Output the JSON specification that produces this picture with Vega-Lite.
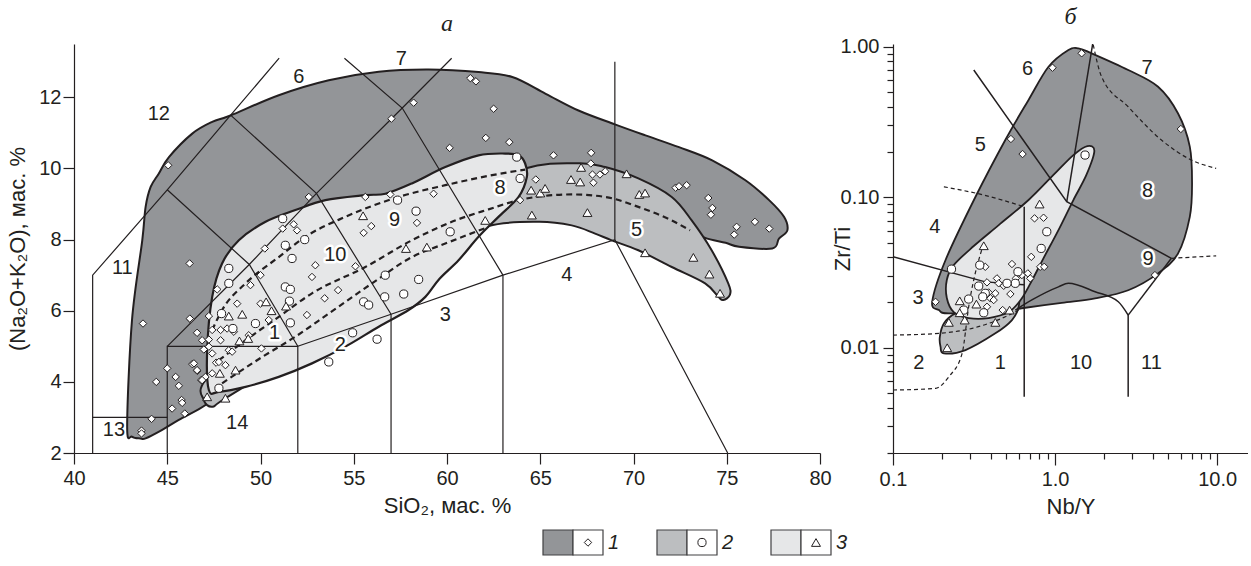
{
"$schema": "https://vega.github.io/schema/vega-lite/v6.json",
"background": "white",
"padding": {"left": 6, "top": 4, "right": 0, "bottom": 5},
"config": {"view": {"stroke": null}, "font": "Liberation Sans",
  "axis": {"grid": false, "domainColor": "#231f20", "tickColor": "#231f20", "labelColor": "#231f20", "titleColor": "#231f20", "labelFontSize": 20, "titleFontSize": 22, "titleFontWeight": "normal", "labelFont": "Liberation Sans", "titleFont": "Liberation Sans", "domainWidth": 1.2, "tickWidth": 1.2, "labelFlush": false},
  "title": {"font": "Liberation Serif", "fontStyle": "italic", "fontWeight": "normal", "fontSize": 24, "color": "#231f20", "offset": 8}},
"spacing": 12,
"datasets": {
"aDark": [{"i":0,"x":43.12,"y":2.46},{"i":1,"x":42.85,"y":2.74},{"i":2,"x":43.11,"y":5.74},{"i":3,"x":43.66,"y":7.98},{"i":4,"x":43.84,"y":8.92},{"i":5,"x":44.11,"y":9.48},{"i":6,"x":44.55,"y":9.86},{"i":7,"x":45.09,"y":10.32},{"i":8,"x":46.34,"y":10.98},{"i":9,"x":47.41,"y":11.31},{"i":10,"x":48.39,"y":11.49},{"i":11,"x":50.98,"y":12.06},{"i":12,"x":53.66,"y":12.48},{"i":13,"x":56.34,"y":12.72},{"i":14,"x":59.01,"y":12.78},{"i":15,"x":61.69,"y":12.71},{"i":16,"x":63.5,"y":12.57},{"i":17,"x":65.29,"y":12.1},{"i":18,"x":67.05,"y":11.63},{"i":19,"x":69.0,"y":11.24},{"i":20,"x":70.64,"y":10.93},{"i":21,"x":72.44,"y":10.6},{"i":22,"x":74.22,"y":10.23},{"i":23,"x":76.0,"y":9.67},{"i":24,"x":77.27,"y":9.11},{"i":25,"x":78.07,"y":8.64},{"i":26,"x":78.25,"y":8.26},{"i":27,"x":77.8,"y":8.03},{"i":28,"x":77.44,"y":7.75},{"i":29,"x":75.66,"y":7.8},{"i":30,"x":74.94,"y":7.91},{"i":31,"x":73.84,"y":8.05},{"i":32,"x":73.12,"y":8.26},{"i":33,"x":70,"y":9.0},{"i":34,"x":67,"y":9.5},{"i":35,"x":64.5,"y":9.6},{"i":36,"x":62,"y":9.0},{"i":37,"x":58,"y":8.5},{"i":38,"x":54,"y":7.5},{"i":39,"x":50,"y":6.5},{"i":40,"x":48,"y":5.5},{"i":41,"x":47.6,"y":4.4},{"i":42,"x":47.2,"y":3.6},{"i":43,"x":47.05,"y":3.35},{"i":44,"x":45.62,"y":2.93},{"i":45,"x":44.73,"y":2.65},{"i":46,"x":43.84,"y":2.41},{"i":47,"x":43.57,"y":2.41}],
"aMed": [{"i":0,"x":47.05,"y":4.05},{"i":1,"x":50,"y":5.5},{"i":2,"x":55,"y":7.5},{"i":3,"x":60,"y":9.0},{"i":4,"x":64.19,"y":10.0},{"i":5,"x":67.05,"y":10.15},{"i":6,"x":68.48,"y":10.04},{"i":7,"x":70.26,"y":9.72},{"i":8,"x":72.05,"y":9.2},{"i":9,"x":73.12,"y":8.54},{"i":10,"x":74.19,"y":7.7},{"i":11,"x":75.08,"y":6.77},{"i":12,"x":75.17,"y":6.45},{"i":13,"x":74.81,"y":6.3},{"i":14,"x":74.55,"y":6.39},{"i":15,"x":73.84,"y":6.77},{"i":16,"x":72.05,"y":7.23},{"i":17,"x":70.26,"y":7.7},{"i":18,"x":68.83,"y":7.98},{"i":19,"x":67.94,"y":8.17},{"i":20,"x":66.69,"y":8.4},{"i":21,"x":64.9,"y":8.5},{"i":22,"x":62.23,"y":8.38},{"i":23,"x":60,"y":7.7},{"i":24,"x":56,"y":6.2},{"i":25,"x":52,"y":4.8},{"i":26,"x":48.12,"y":3.54},{"i":27,"x":47.41,"y":3.3},{"i":28,"x":46.96,"y":3.49}],
"aLight": [{"i":0,"x":47.23,"y":3.77},{"i":1,"x":47.14,"y":4.89},{"i":2,"x":47.41,"y":6.39},{"i":3,"x":47.94,"y":7.33},{"i":4,"x":48.84,"y":7.98},{"i":5,"x":50.27,"y":8.5},{"i":6,"x":51.87,"y":8.83},{"i":7,"x":53.48,"y":9.11},{"i":8,"x":55.62,"y":9.25},{"i":9,"x":56.7,"y":9.29},{"i":10,"x":58.12,"y":9.58},{"i":11,"x":59.91,"y":10.04},{"i":12,"x":61.69,"y":10.37},{"i":13,"x":63.12,"y":10.42},{"i":14,"x":63.84,"y":10.37},{"i":15,"x":64.19,"y":10.14},{"i":16,"x":64.28,"y":9.76},{"i":17,"x":63.84,"y":9.2},{"i":18,"x":62.76,"y":8.64},{"i":19,"x":61.69,"y":8.08},{"i":20,"x":60.62,"y":7.42},{"i":21,"x":59.6,"y":6.9},{"i":22,"x":58.84,"y":6.39},{"i":23,"x":57.94,"y":6.02},{"i":24,"x":56.34,"y":5.55},{"i":25,"x":54.55,"y":4.99},{"i":26,"x":52.76,"y":4.52},{"i":27,"x":50.98,"y":4.14},{"i":28,"x":49.2,"y":3.86},{"i":29,"x":47.77,"y":3.72}],
"aLines": [
 {"s":"a","i":0,"x":41,"y":2},{"s":"a","i":1,"x":41,"y":7},{"s":"a","i":2,"x":45,"y":9.4},{"s":"a","i":3,"x":48.4,"y":11.5},{"s":"a","i":4,"x":51.0,"y":13.1},
 {"s":"b","i":0,"x":41,"y":3},{"s":"b","i":1,"x":45,"y":3},
 {"s":"c","i":0,"x":45,"y":2},{"s":"c","i":1,"x":45,"y":5},{"s":"c","i":2,"x":52,"y":5},{"s":"c","i":3,"x":52,"y":2},
 {"s":"d","i":0,"x":45,"y":5},{"s":"d","i":1,"x":49.4,"y":7.3},{"s":"d","i":2,"x":53,"y":9.3},{"s":"d","i":3,"x":57.6,"y":11.7},{"s":"d","i":4,"x":60.25,"y":13.1},
 {"s":"e","i":0,"x":52,"y":5},{"s":"e","i":1,"x":57,"y":5.9},{"s":"e","i":2,"x":63,"y":7},{"s":"e","i":3,"x":69,"y":8},{"s":"e","i":4,"x":75.05,"y":2},
 {"s":"f","i":0,"x":57,"y":2},{"s":"f","i":1,"x":57,"y":5.9},
 {"s":"g","i":0,"x":63,"y":2},{"s":"g","i":1,"x":63,"y":7},
 {"s":"h","i":0,"x":69,"y":8},{"s":"h","i":1,"x":69,"y":13},
 {"s":"k","i":0,"x":45,"y":9.4},{"s":"k","i":1,"x":49.4,"y":7.3},{"s":"k","i":2,"x":52,"y":5},
 {"s":"j","i":0,"x":48.4,"y":11.5},{"s":"j","i":1,"x":53,"y":9.3},{"s":"j","i":2,"x":57,"y":5.9},
 {"s":"m","i":0,"x":54.5,"y":13.1},{"s":"m","i":1,"x":57.6,"y":11.7},{"s":"m","i":2,"x":63,"y":7}],
"aDash": [
 {"s":"1","i":0,"x":47.41,"y":5.46},{"s":"1","i":1,"x":47.94,"y":6.02},{"s":"1","i":2,"x":49.2,"y":6.77},{"s":"1","i":3,"x":50.98,"y":7.51},{"s":"1","i":4,"x":52.41,"y":8.08},{"s":"1","i":5,"x":54.55,"y":8.64},{"s":"1","i":6,"x":57.41,"y":9.2},{"s":"1","i":7,"x":59.91,"y":9.53},{"s":"1","i":8,"x":62.3,"y":9.8},{"s":"1","i":9,"x":64.19,"y":9.97},
 {"s":"2","i":0,"x":47.77,"y":4.61},{"s":"2","i":1,"x":49.2,"y":5.17},{"s":"2","i":2,"x":50.98,"y":5.83},{"s":"2","i":3,"x":52.76,"y":6.49},{"s":"2","i":4,"x":55.62,"y":7.23},{"s":"2","i":5,"x":58.12,"y":7.98},{"s":"2","i":6,"x":60.5,"y":8.55},{"s":"2","i":7,"x":62.23,"y":8.85},{"s":"2","i":8,"x":64.01,"y":9.13},{"s":"2","i":9,"x":66.69,"y":9.27},{"s":"2","i":10,"x":68.48,"y":9.2},{"s":"2","i":11,"x":70.26,"y":8.92},{"s":"2","i":12,"x":72.05,"y":8.54},{"s":"2","i":13,"x":73.03,"y":8.26},
 {"s":"3","i":0,"x":47.94,"y":3.96},{"s":"3","i":1,"x":50.09,"y":4.7},{"s":"3","i":2,"x":51.87,"y":5.27},{"s":"3","i":3,"x":53.66,"y":5.92},{"s":"3","i":4,"x":55.98,"y":6.77},{"s":"3","i":5,"x":58.12,"y":7.51},{"s":"3","i":6,"x":59.91,"y":7.89},{"s":"3","i":7,"x":62.23,"y":8.36}],
"aPts": [
 {"g":"1","x":45.05,"y":10.09},{"g":"1","x":58.21,"y":11.85},{"g":"1","x":57.02,"y":11.4},{"g":"1","x":61.25,"y":12.54},{"g":"1","x":61.55,"y":12.45},{"g":"1","x":62.5,"y":11.68},{"g":"1","x":62.08,"y":10.86},{"g":"1","x":60.14,"y":10.58},{"g":"1","x":52.59,"y":9.2},{"g":"1","x":63.34,"y":10.74},{"g":"1","x":65.71,"y":10.37},{"g":"1","x":67.73,"y":10.44},{"g":"1","x":67.71,"y":10.14},{"g":"1","x":67.8,"y":9.83},{"g":"1","x":68.2,"y":9.83},{"g":"1","x":68.48,"y":9.92},{"g":"1","x":67.85,"y":9.6},{"g":"1","x":64.76,"y":9.69},{"g":"1","x":63.92,"y":9.11},{"g":"1","x":72.26,"y":9.46},{"g":"1","x":72.44,"y":9.5},{"g":"1","x":72.85,"y":9.53},{"g":"1","x":74.01,"y":9.17},{"g":"1","x":74.23,"y":8.89},{"g":"1","x":74.15,"y":8.7},{"g":"1","x":75.53,"y":8.36},{"g":"1","x":76.51,"y":8.5},{"g":"1","x":77.28,"y":8.31},{"g":"1","x":75.4,"y":8.14},
 {"g":"1","x":46.2,"y":7.33},{"g":"1","x":43.7,"y":5.64},{"g":"1","x":46.25,"y":5.76},{"g":"1","x":45.0,"y":4.38},{"g":"1","x":45.45,"y":4.14},{"g":"1","x":45.62,"y":3.89},{"g":"1","x":44.41,"y":4.0},{"g":"1","x":45.77,"y":3.49},{"g":"1","x":45.8,"y":3.41},{"g":"1","x":45.26,"y":3.25},{"g":"1","x":45.94,"y":3.11},{"g":"1","x":44.16,"y":2.96},{"g":"1","x":43.62,"y":2.63},{"g":"1","x":43.62,"y":2.55},{"g":"1","x":46.34,"y":4.5},{"g":"1","x":46.61,"y":4.31},{"g":"1","x":46.82,"y":4.05},
 {"g":"1","x":55.62,"y":9.2},{"g":"1","x":56.96,"y":9.27},{"g":"1","x":59.28,"y":9.29},{"g":"1","x":55.53,"y":8.19},{"g":"1","x":55.94,"y":8.38},{"g":"1","x":58.39,"y":8.47},{"g":"1","x":51.78,"y":8.43},{"g":"1","x":51.96,"y":8.26},{"g":"1","x":51.19,"y":8.31},{"g":"1","x":52.94,"y":7.28},{"g":"1","x":52.76,"y":6.95},{"g":"1","x":55.09,"y":7.25},{"g":"1","x":54.16,"y":6.58},{"g":"1","x":53.44,"y":6.35},{"g":"1","x":52.49,"y":5.88},{"g":"1","x":50.23,"y":7.75},{"g":"1","x":50.0,"y":7.0},{"g":"1","x":49.46,"y":6.72},{"g":"1","x":50.0,"y":6.2},{"g":"1","x":50.44,"y":5.74},{"g":"1","x":50.05,"y":4.94},{"g":"1","x":49.37,"y":5.31},{"g":"1","x":48.3,"y":4.89},{"g":"1","x":48.48,"y":4.85},{"g":"1","x":47.41,"y":5.46},{"g":"1","x":47.86,"y":5.46},{"g":"1","x":48.21,"y":5.5},{"g":"1","x":48.57,"y":5.41},{"g":"1","x":46.6,"y":5.38},{"g":"1","x":46.87,"y":5.17},{"g":"1","x":47.23,"y":5.19},{"g":"1","x":47.86,"y":5.17},{"g":"1","x":46.96,"y":4.91},{"g":"1","x":47.23,"y":4.99},{"g":"1","x":47.41,"y":4.8},{"g":"1","x":47.62,"y":4.54},{"g":"1","x":47.77,"y":4.56},{"g":"1","x":48.12,"y":4.47},{"g":"1","x":46.43,"y":4.52},{"g":"1","x":46.6,"y":4.33},{"g":"1","x":47.05,"y":4.14},{"g":"1","x":46.87,"y":4.05},{"g":"1","x":47.41,"y":4.24},{"g":"1","x":46.21,"y":5.78},{"g":"1","x":47.23,"y":5.85},{"g":"1","x":47.68,"y":6.6},{"g":"1","x":48.75,"y":6.2},
 {"g":"2","x":48.3,"y":7.19},{"g":"2","x":51.19,"y":8.59},{"g":"2","x":51.33,"y":7.84},{"g":"2","x":51.69,"y":7.47},{"g":"2","x":52.37,"y":8.0},{"g":"2","x":47.91,"y":5.92},{"g":"2","x":48.3,"y":6.77},{"g":"2","x":51.33,"y":6.67},{"g":"2","x":51.6,"y":6.6},{"g":"2","x":51.55,"y":6.27},{"g":"2","x":51.6,"y":5.66},{"g":"2","x":49.73,"y":5.64},{"g":"2","x":47.77,"y":3.82},{"g":"2","x":53.66,"y":4.56},{"g":"2","x":54.94,"y":5.38},{"g":"2","x":56.25,"y":5.2},{"g":"2","x":55.53,"y":6.25},{"g":"2","x":55.8,"y":6.16},{"g":"2","x":56.66,"y":6.39},{"g":"2","x":56.69,"y":7.0},{"g":"2","x":57.68,"y":6.47},{"g":"2","x":58.48,"y":6.88},{"g":"2","x":60.17,"y":8.22},{"g":"2","x":58.34,"y":8.8},{"g":"2","x":57.35,"y":9.11},{"g":"2","x":63.74,"y":10.32},{"g":"2","x":63.92,"y":9.72},{"g":"2","x":48.52,"y":5.5},
 {"g":"3","x":55.5,"y":8.67},{"g":"3","x":57.8,"y":7.75},{"g":"3","x":58.92,"y":7.79},{"g":"3","x":62.05,"y":8.54},{"g":"3","x":49.02,"y":5.9},{"g":"3","x":48.3,"y":5.85},{"g":"3","x":50.59,"y":6.0},{"g":"3","x":50.3,"y":6.25},{"g":"3","x":51.37,"y":6.13},{"g":"3","x":48.87,"y":5.15},{"g":"3","x":49.34,"y":5.22},{"g":"3","x":48.66,"y":4.33},{"g":"3","x":47.82,"y":4.24},{"g":"3","x":47.14,"y":3.58},{"g":"3","x":48.12,"y":3.54},
 {"g":"3","x":64.55,"y":8.69},{"g":"3","x":64.51,"y":9.39},{"g":"3","x":65.0,"y":9.31},{"g":"3","x":65.26,"y":9.44},{"g":"3","x":66.65,"y":9.69},{"g":"3","x":67.14,"y":9.62},{"g":"3","x":67.19,"y":10.03},{"g":"3","x":67.53,"y":8.76},{"g":"3","x":69.63,"y":9.85},{"g":"3","x":70.31,"y":9.27},{"g":"3","x":70.62,"y":9.31},{"g":"3","x":70.62,"y":7.63},{"g":"3","x":73.21,"y":7.5},{"g":"3","x":74.07,"y":7.03},{"g":"3","x":74.64,"y":6.49}],
"aLab": [{"t":"12","x":44.55,"y":11.54},{"t":"6","x":52.05,"y":12.57},{"t":"7","x":57.55,"y":13.09},{"t":"11","x":42.59,"y":7.19},{"t":"13","x":42.14,"y":2.65},{"t":"14","x":48.75,"y":2.83},{"t":"3","x":59.91,"y":5.88},{"t":"4","x":66.42,"y":7.0}],
"aLabW": [{"t":"1","x":50.75,"y":5.38},{"t":"2","x":54.28,"y":5.03},{"t":"10","x":54.01,"y":7.56},{"t":"9","x":57.19,"y":8.54},{"t":"8","x":62.85,"y":9.44},{"t":"5","x":70.17,"y":8.28}],
"bDark": [{"i":0,"x":0.1745,"y":0.0202},{"i":1,"x":0.211,"y":0.0383},{"i":2,"x":0.323,"y":0.1007},{"i":3,"x":0.493,"y":0.24},{"i":4,"x":0.686,"y":0.443},{"i":5,"x":0.911,"y":0.736},{"i":6,"x":1.209,"y":0.951},{"i":7,"x":1.393,"y":0.976},{"i":8,"x":1.683,"y":0.903},{"i":9,"x":2.827,"y":0.7},{"i":10,"x":4.32,"y":0.542},{"i":11,"x":5.74,"y":0.36},{"i":12,"x":6.78,"y":0.217},{"i":13,"x":7.0,"y":0.1236},{"i":14,"x":6.78,"y":0.0741},{"i":15,"x":5.74,"y":0.0424},{"i":16,"x":4.32,"y":0.0312},{"i":17,"x":2.827,"y":0.0241},{"i":18,"x":1.765,"y":0.0213},{"i":19,"x":1.099,"y":0.0199},{"i":20,"x":0.623,"y":0.0183},{"i":21,"x":0.449,"y":0.01754},{"i":22,"x":0.221,"y":0.01693},{"i":23,"x":0.192,"y":0.0178}],
"bMed": [{"i":0,"x":0.1965,"y":0.01015},{"i":1,"x":0.206,"y":0.00918},{"i":2,"x":0.28,"y":0.00966},{"i":3,"x":0.428,"y":0.01247},{"i":4,"x":0.542,"y":0.01528},{"i":5,"x":0.596,"y":0.01872},{"i":6,"x":0.581,"y":0.0218},{"i":7,"x":0.449,"y":0.02075},{"i":8,"x":0.338,"y":0.01872},{"i":9,"x":0.243,"y":0.01693},{"i":10,"x":0.206,"y":0.01452},{"i":11,"x":0.1945,"y":0.01183}],
"bLight": [{"i":0,"x":1.582,"y":0.2188},{"i":1,"x":1.747,"y":0.2028},{"i":2,"x":1.56,"y":0.1406},{"i":3,"x":1.297,"y":0.0958},{"i":4,"x":1.049,"y":0.0605},{"i":5,"x":0.849,"y":0.0394},{"i":6,"x":0.706,"y":0.0269},{"i":7,"x":0.613,"y":0.02075},{"i":8,"x":0.517,"y":0.01726},{"i":9,"x":0.389,"y":0.01575},{"i":10,"x":0.2934,"y":0.01575},{"i":11,"x":0.237,"y":0.01726},{"i":12,"x":0.2148,"y":0.0214},{"i":13,"x":0.2148,"y":0.0282},{"i":14,"x":0.237,"y":0.0354},{"i":15,"x":0.315,"y":0.0474},{"i":16,"x":0.449,"y":0.0653},{"i":17,"x":0.686,"y":0.0958},{"i":18,"x":0.977,"y":0.1406},{"i":19,"x":1.297,"y":0.1906}],
"bLines": [
 {"s":"1","i":0,"x":0.315,"y":0.7},{"s":"1","i":1,"x":1.18,"y":0.0933},{"s":"1","i":2,"x":5.22,"y":0.0393},
 {"s":"2","i":0,"x":1.72,"y":1.1},{"s":"2","i":1,"x":1.18,"y":0.0933},
 {"s":"3","i":0,"x":0.1,"y":0.0403},{"s":"3","i":1,"x":0.371,"y":0.0274},{"s":"3","i":2,"x":0.645,"y":0.0262},
 {"s":"4","i":0,"x":0.645,"y":0.0865},{"s":"4","i":1,"x":0.645,"y":0.00473},
 {"s":"5","i":0,"x":2.825,"y":0.01648},{"s":"5","i":1,"x":5.22,"y":0.0393},
 {"s":"6","i":0,"x":2.825,"y":0.01648},{"s":"6","i":1,"x":2.825,"y":0.00473}],
"bArc": [{"i":0,"x":0.568,"y":0.0178},{"i":1,"x":0.719,"y":0.0208},{"i":2,"x":1.049,"y":0.0254},{"i":3,"x":1.208,"y":0.0268},{"i":4,"x":1.765,"y":0.02356},{"i":5,"x":2.455,"y":0.0202},{"i":6,"x":2.825,"y":0.01648}],
"bDash": [
 {"s":"a","i":0,"x":1.72,"y":1.03},{"s":"a","i":1,"x":1.936,"y":0.631},{"s":"a","i":2,"x":2.825,"y":0.399},{"s":"a","i":3,"x":4.53,"y":0.24},{"s":"a","i":4,"x":6.93,"y":0.1767},{"s":"a","i":5,"x":9.86,"y":0.1556},
 {"s":"b","i":0,"x":0.206,"y":0.1174},{"s":"b","i":1,"x":0.363,"y":0.1034},{"s":"b","i":2,"x":0.645,"y":0.0865},
 {"s":"c","i":0,"x":5.22,"y":0.0393},{"s":"c","i":1,"x":9.86,"y":0.0408},
 {"s":"d","i":0,"x":0.1,"y":0.00524},{"s":"d","i":1,"x":0.183,"y":0.00537},{"s":"d","i":2,"x":0.221,"y":0.00642},{"s":"d","i":3,"x":0.267,"y":0.00918},{"s":"d","i":4,"x":0.293,"y":0.0187},{"s":"d","i":5,"x":0.363,"y":0.0494},
 {"s":"e","i":0,"x":0.1,"y":0.01214},{"s":"e","i":1,"x":0.192,"y":0.01247},{"s":"e","i":2,"x":0.308,"y":0.01346},{"s":"e","i":3,"x":0.493,"y":0.01607},{"s":"e","i":4,"x":0.596,"y":0.0178}],
"bPts": [
 {"g":"1","x":0.964,"y":0.725},{"g":"1","x":1.459,"y":0.904},{"g":"1","x":5.97,"y":0.284},{"g":"1","x":0.534,"y":0.2437},{"g":"1","x":0.63,"y":0.1936},{"g":"1","x":0.747,"y":0.0724},{"g":"1","x":0.849,"y":0.0731},{"g":"1","x":0.371,"y":0.0345},{"g":"1","x":0.542,"y":0.036},{"g":"1","x":0.713,"y":0.0402},{"g":"1","x":0.81,"y":0.0345},{"g":"1","x":0.857,"y":0.0345},{"g":"1","x":0.38,"y":0.0272},{"g":"1","x":0.438,"y":0.0289},{"g":"1","x":0.449,"y":0.0268},{"g":"1","x":0.482,"y":0.0258},{"g":"1","x":0.53,"y":0.02275},{"g":"1","x":0.428,"y":0.023},{"g":"1","x":0.389,"y":0.0233},{"g":"1","x":0.399,"y":0.0213},{"g":"1","x":0.418,"y":0.02075},{"g":"1","x":0.38,"y":0.01872},{"g":"1","x":0.475,"y":0.0178},{"g":"1","x":0.573,"y":0.0289},{"g":"1","x":0.624,"y":0.0304},{"g":"1","x":0.679,"y":0.0312},{"g":"1","x":0.703,"y":0.0289},{"g":"1","x":0.183,"y":0.0202},{"g":"1","x":4.13,"y":0.0304},
 {"g":"2","x":1.531,"y":0.1906},{"g":"2","x":0.889,"y":0.059},{"g":"2","x":0.821,"y":0.0457},{"g":"2","x":0.2296,"y":0.0333},{"g":"2","x":0.343,"y":0.0354},{"g":"2","x":0.59,"y":0.032},{"g":"2","x":0.568,"y":0.0268},{"g":"2","x":0.338,"y":0.0257},{"g":"2","x":0.371,"y":0.023},{"g":"2","x":0.293,"y":0.02107},{"g":"2","x":0.358,"y":0.0218},{"g":"2","x":0.2733,"y":0.0178},{"g":"2","x":0.363,"y":0.01708},{"g":"2","x":0.505,"y":0.0268},
 {"g":"3","x":0.802,"y":0.0901},{"g":"3","x":0.363,"y":0.0476},{"g":"3","x":0.258,"y":0.0205},{"g":"3","x":0.327,"y":0.0195},{"g":"3","x":0.258,"y":0.01708},{"g":"3","x":0.277,"y":0.01528},{"g":"3","x":0.221,"y":0.01475},{"g":"3","x":0.428,"y":0.01475},{"g":"3","x":0.524,"y":0.0178},{"g":"3","x":0.216,"y":0.01}],
"bLab": [{"t":"6","x":0.676,"y":0.71},{"t":"7","x":3.7,"y":0.719},{"t":"5","x":0.346,"y":0.222},{"t":"4","x":0.181,"y":0.0637},{"t":"3","x":0.143,"y":0.0215},{"t":"2","x":0.1445,"y":0.00795},{"t":"1","x":0.459,"y":0.00795},{"t":"10","x":1.447,"y":0.00795},{"t":"11","x":3.93,"y":0.00795}],
"bLabW": [{"t":"8","x":3.72,"y":0.1099},{"t":"9","x":3.75,"y":0.0387}],
"legend": [{"item":"1","part":"sw","kind":"1"},{"item":"1","part":"sy","kind":"box"},{"item":"1","part":"lb","kind":"lab"},{"item":"2","part":"sw","kind":"2"},{"item":"2","part":"sy","kind":"box"},{"item":"2","part":"lb","kind":"lab"},{"item":"3","part":"sw","kind":"3"},{"item":"3","part":"sy","kind":"box"},{"item":"3","part":"lb","kind":"lab"}]
},
"vconcat": [
{"hconcat": [
 {"width": 746, "height": 409, "title": "а",
  "encoding": {
   "x": {"field": "x", "type": "quantitative", "scale": {"domain": [40, 80], "nice": false, "zero": false},
     "axis": {"values": [40,45,50,55,60,65,70,75,80], "tickSize": 11, "labelPadding": 4, "title": "SiO₂, мас. %", "titlePadding": 7}},
   "y": {"field": "y", "type": "quantitative", "scale": {"domain": [2, 13.5], "nice": false, "zero": false},
     "axis": {"values": [2,4,6,8,10,12], "tickSize": 11, "labelPadding": 2, "title": "(Na₂O+K₂O), мас. %", "titlePadding": 9}}
  },
  "layer": [
   {"data": {"name": "aDark"}, "mark": {"type": "line", "interpolate": "cardinal-closed", "fill": "#939598", "stroke": "#231f20", "strokeWidth": 2}, "encoding": {"order": {"field": "i", "type": "quantitative"}}},
   {"data": {"name": "aMed"}, "mark": {"type": "line", "interpolate": "cardinal-closed", "fill": "#bcbec0", "stroke": "#231f20", "strokeWidth": 2}, "encoding": {"order": {"field": "i", "type": "quantitative"}}},
   {"data": {"name": "aLight"}, "mark": {"type": "line", "interpolate": "cardinal-closed", "fill": "#e6e7e8", "stroke": "#231f20", "strokeWidth": 2.2}, "encoding": {"order": {"field": "i", "type": "quantitative"}}},
   {"data": {"name": "aLines"}, "mark": {"type": "line", "stroke": "#231f20", "strokeWidth": 1.2}, "encoding": {"detail": {"field": "s"}, "order": {"field": "i", "type": "quantitative"}}},
   {"data": {"name": "aDash"}, "mark": {"type": "line", "interpolate": "monotone", "stroke": "#231f20", "strokeWidth": 2.2, "strokeDash": [6, 4]}, "encoding": {"detail": {"field": "s"}, "order": {"field": "i", "type": "quantitative"}}},
   {"data": {"name": "aPts"}, "mark": {"type": "point", "filled": true, "fill": "white", "stroke": "#231f20", "strokeWidth": 1, "opacity": 1},
    "encoding": {"shape": {"field": "g", "type": "nominal", "scale": {"domain": ["1","2","3"], "range": ["diamond","circle","triangle-up"]}, "legend": null},
                 "size": {"field": "g", "type": "nominal", "scale": {"domain": ["1","2","3"], "range": [55, 80, 72]}, "legend": null}}},
   {"data": {"name": "aLab"}, "mark": {"type": "text", "fontSize": 20, "fill": "#231f20"}, "encoding": {"text": {"field": "t"}}},
   {"data": {"name": "aLabW"}, "mark": {"type": "text", "fontSize": 20, "fill": "white", "stroke": "white", "strokeWidth": 5, "strokeJoin": "round"}, "encoding": {"text": {"field": "t"}}},
   {"data": {"name": "aLabW"}, "mark": {"type": "text", "fontSize": 20, "fill": "#231f20"}, "encoding": {"text": {"field": "t"}}}
  ]
 },
 {"width": 355, "height": 409, "title": "б",
  "encoding": {
   "x": {"field": "x", "type": "quantitative", "scale": {"type": "log", "domain": [0.1, 15.5], "nice": false},
     "axis": {"values": [0.1,0.2,0.3,0.4,0.5,0.6,0.7,0.8,0.9,1,2,3,4,5,6,7,8,9,10],
       "labelExpr": "datum.value == 0.1 ? '0.1' : datum.value == 1 ? '1.0' : datum.value == 10 ? '10.0' : ''",
       "tickSize": {"condition": {"test": "datum.value == 0.1 || datum.value == 1 || datum.value == 10", "value": 12}, "value": 6},
       "labelPadding": 4, "title": "Nb/Y", "titlePadding": 7, "labelOverlap": false}},
   "y": {"field": "y", "type": "quantitative", "scale": {"type": "log", "domain": [0.002, 1.042], "nice": false},
     "axis": {"values": [0.002,0.003,0.004,0.005,0.006,0.007,0.008,0.009,0.01,0.02,0.03,0.04,0.05,0.06,0.07,0.08,0.09,0.1,0.2,0.3,0.4,0.5,0.6,0.7,0.8,0.9,1],
       "labelExpr": "datum.value == 1 ? '1.00' : datum.value == 0.1 ? '0.10' : datum.value == 0.01 ? '0.01' : ''",
       "tickSize": {"condition": {"test": "datum.value == 1 || datum.value == 0.1 || datum.value == 0.01", "value": 10}, "value": 6},
       "labelPadding": 4, "title": "Zr/Ti", "titleX": -51, "titleBaseline": "middle", "labelOverlap": false}}
  },
  "layer": [
   {"data": {"name": "bDark"}, "mark": {"type": "line", "interpolate": "cardinal-closed", "fill": "#939598", "stroke": "#231f20", "strokeWidth": 1.8}, "encoding": {"order": {"field": "i", "type": "quantitative"}}},
   {"data": {"name": "bMed"}, "mark": {"type": "line", "interpolate": "cardinal-closed", "fill": "#bcbec0", "stroke": "#231f20", "strokeWidth": 1.8}, "encoding": {"order": {"field": "i", "type": "quantitative"}}},
   {"data": {"name": "bLight"}, "mark": {"type": "line", "interpolate": "cardinal-closed", "fill": "#e6e7e8", "stroke": "#231f20", "strokeWidth": 1.8}, "encoding": {"order": {"field": "i", "type": "quantitative"}}},
   {"data": {"name": "bLines"}, "mark": {"type": "line", "stroke": "#231f20", "strokeWidth": 1.5, "clip": true}, "encoding": {"detail": {"field": "s"}, "order": {"field": "i", "type": "quantitative"}}},
   {"data": {"name": "bArc"}, "mark": {"type": "line", "interpolate": "monotone", "stroke": "#231f20", "strokeWidth": 1.5}, "encoding": {"order": {"field": "i", "type": "quantitative"}}},
   {"data": {"name": "bDash"}, "mark": {"type": "line", "interpolate": "monotone", "stroke": "#231f20", "strokeWidth": 1.2, "strokeDash": [4, 3], "clip": true}, "encoding": {"detail": {"field": "s"}, "order": {"field": "i", "type": "quantitative"}}},
   {"data": {"name": "bPts"}, "mark": {"type": "point", "filled": true, "fill": "white", "stroke": "#231f20", "strokeWidth": 1, "opacity": 1},
    "encoding": {"shape": {"field": "g", "type": "nominal", "scale": {"domain": ["1","2","3"], "range": ["diamond","circle","triangle-up"]}, "legend": null},
                 "size": {"field": "g", "type": "nominal", "scale": {"domain": ["1","2","3"], "range": [48, 75, 68]}, "legend": null}}},
   {"data": {"name": "bLab"}, "mark": {"type": "text", "fontSize": 20, "fill": "#231f20"}, "encoding": {"text": {"field": "t"}}},
   {"data": {"name": "bLabW"}, "mark": {"type": "text", "fontSize": 20, "fill": "white", "stroke": "white", "strokeWidth": 5, "strokeJoin": "round"}, "encoding": {"text": {"field": "t"}}},
   {"data": {"name": "bLabW"}, "mark": {"type": "text", "fontSize": 20, "fill": "#231f20"}, "encoding": {"text": {"field": "t"}}}
  ]
 }
 ], "spacing": 73, "bounds": "flush"},
{"width": 787, "height": 25, "data": {"name": "legend"},
 "encoding": {
   "x": {"field": "item", "type": "nominal", "scale": {"type": "band", "domain": ["a","b","c","d","1","2","3"], "paddingInner": 0.2105, "paddingOuter": 0.057, "align": 1}, "axis": null},
   "xOffset": {"field": "part", "type": "nominal", "scale": {"type": "band", "domain": ["sw","sy","lb"], "paddingInner": 0, "paddingOuter": 0}}
 },
 "layer": [
   {"transform": [{"filter": "datum.part != 'lb'"}], "mark": {"type": "rect", "stroke": "#414042", "strokeWidth": 1.2},
    "encoding": {"fill": {"field": "kind", "type": "nominal", "scale": {"domain": ["1","2","3","box"], "range": ["#939598","#bcbec0","#e6e7e8","#ffffff"]}, "legend": null}}},
   {"transform": [{"filter": "datum.part == 'sy'"}], "mark": {"type": "point", "filled": true, "fill": "white", "stroke": "#231f20", "strokeWidth": 1, "opacity": 1},
    "encoding": {"y": {"value": 12.5}, "shape": {"field": "item", "type": "nominal", "scale": {"domain": ["1","2","3"], "range": ["diamond","circle","triangle-up"]}, "legend": null},
      "size": {"field": "item", "type": "nominal", "scale": {"domain": ["1","2","3"], "range": [36, 45, 50]}, "legend": null}}},
   {"transform": [{"filter": "datum.part == 'lb'"}], "mark": {"type": "text", "fontSize": 20, "fontStyle": "italic", "fill": "#231f20", "align": "left", "dx": -10},
    "encoding": {"y": {"value": 12.5}, "text": {"field": "item"}}}
 ]
}
]
}
